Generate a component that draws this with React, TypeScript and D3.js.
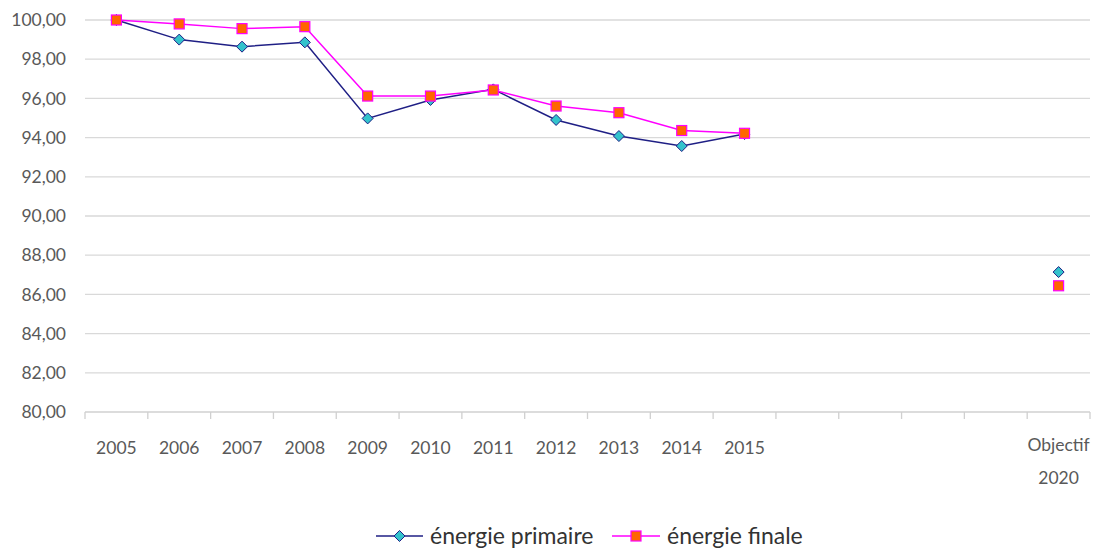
import React from "react";
import * as d3 from "d3";

const categories: string[] = ["2005","2006","2007","2008","2009","2010","2011","2012","2013","2014","2015","b1","b2","b3","b4","Objectif 2020"];
const primaire: (number | null)[] = [100, 99.0, 98.64, 98.86, 94.98, 95.92, 96.46, 94.9, 94.08, 93.57, 94.18, null, null, null, null, 87.14];
const finale: (number | null)[] = [100, 99.8, 99.56, 99.66, 96.12, 96.12, 96.43, 95.61, 95.27, 94.36, 94.22, null, null, null, null, 86.44];
const yTicks: number[] = [80, 82, 84, 86, 88, 90, 92, 94, 96, 98, 100];

const W = 1098, H = 548;
const left = 85, right = 1090, top = 20, bottom = 412;
const FONT = "Lato, 'Open Sans', sans-serif";
const TXT = "#595959";
const NAVY = "#1F1F85";
const CYAN = "#33C3CC";
const MAG = "#FF00FF";
const ORANGE = "#FF6600";
const AX = 17.5;

export default function App() {
  const x = d3.scaleBand<number>().domain(d3.range(categories.length)).range([left, right]).paddingInner(0).paddingOuter(0);
  const y = d3.scaleLinear().domain([80, 100]).range([bottom, top]);
  const cx = (i: number) => (x(i) as number) + x.bandwidth() / 2;
  const line = d3.line<number | null>()
    .defined((d, i) => d != null && i <= 10)
    .x((_, i) => cx(i))
    .y((d) => y(d as number));
  const diamond = (px: number, py: number, r: number) => `M${px},${py - r}L${px + r},${py}L${px},${py + r}L${px - r},${py}Z`;
  const ticksX = d3.range(categories.length + 1).map((i) => left + i * x.bandwidth());

  return (
    <svg width={W} height={H} style={{ position: "absolute", left: 0, top: 0, background: "#fff" }} fontFamily={FONT}>
      {yTicks.map((t) => (
        <g key={t}>
          {t !== 80 && <line x1={left} x2={right} y1={y(t)} y2={y(t)} stroke="#D9D9D9" strokeWidth={1.3} />}
          <text x={66} y={y(t)} dy="0.35em" textAnchor="end" fontSize={AX} fill={TXT}>{t.toFixed(2).replace(".", ",")}</text>
        </g>
      ))}
      <line x1={left} x2={right} y1={bottom} y2={bottom} stroke="#D0D0D0" strokeWidth={1.3} />
      {ticksX.map((tx, i) => (
        <line key={i} x1={tx} x2={tx} y1={bottom} y2={bottom + 7} stroke="#D0D0D0" strokeWidth={1.3} />
      ))}
      {categories.map((c, i) => {
        if (c.startsWith("b")) return null;
        if (c === "Objectif 2020") {
          return (
            <text key={c} x={cx(i)} y={445} textAnchor="middle" fontSize={AX} fill={TXT}>
              <tspan x={cx(i)} dy="0.35em">Objectif</tspan>
              <tspan x={cx(i)} dy="33">2020</tspan>
            </text>
          );
        }
        return <text key={c} x={cx(i)} y={448} dy="0.35em" textAnchor="middle" fontSize={AX} fill={TXT}>{c}</text>;
      })}
      <path d={line(primaire) || ""} fill="none" stroke={NAVY} strokeWidth={1.5} />
      <path d={line(finale) || ""} fill="none" stroke={MAG} strokeWidth={1.5} />
      {primaire.map((v, i) => v == null ? null : (
        <path key={"p" + i} d={diamond(cx(i), y(v), 5.5)} fill={CYAN} stroke={NAVY} strokeWidth={1} />
      ))}
      {finale.map((v, i) => v == null ? null : (
        <rect key={"f" + i} x={cx(i) - 5} y={y(v) - 5} width={10} height={10} fill={ORANGE} stroke={MAG} strokeWidth={1.2} />
      ))}
      <g>
        <line x1={376} x2={423} y1={536} y2={536} stroke={NAVY} strokeWidth={1.5} />
        <path d={diamond(399.5, 536, 5.5)} fill={CYAN} stroke={NAVY} strokeWidth={1} />
        <text x={430} y={536} dy="0.35em" fontSize={23} fill="#333">énergie primaire</text>
        <line x1={612} x2={660} y1={536} y2={536} stroke={MAG} strokeWidth={1.5} />
        <rect x={631} y={531} width={10} height={10} fill={ORANGE} stroke={MAG} strokeWidth={1.2} />
        <text x={667} y={536} dy="0.35em" fontSize={23} fill="#333">énergie finale</text>
      </g>
    </svg>
  );
}
